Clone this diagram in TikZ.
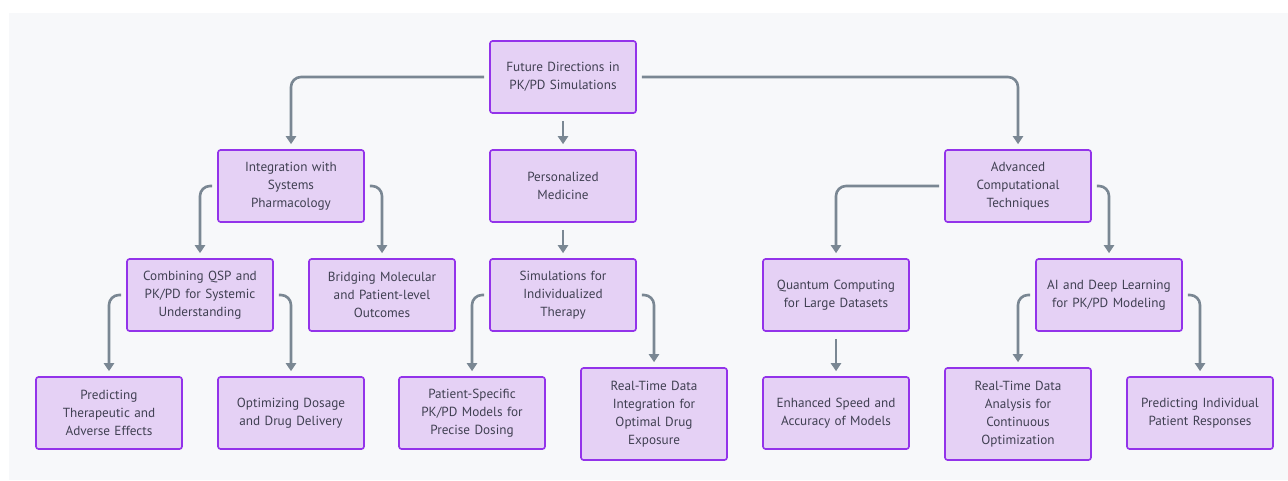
\documentclass[tikz,border=0pt]{standalone}
\usepackage{fontspec}
\setmainfont{PT Sans}
\usetikzlibrary{arrows.meta}
\definecolor{panel}{HTML}{F7F8FA}
\definecolor{boxfill}{HTML}{E5D1F5}
\definecolor{boxline}{HTML}{9333EA}
\definecolor{txt}{HTML}{404052}
\definecolor{edge}{HTML}{7A8793}
\tikzset{
  box/.style={draw=boxline, fill=boxfill, line width=1.6pt, rounded corners=2.5pt,
    minimum width=146pt, minimum height=72pt, text width=140pt, align=center,
    text=txt, font=\fontsize{13.2}{18}\selectfont, inner sep=0pt},
  tallbox/.style={box, minimum height=92pt},
  conn/.style={draw=edge, line width=2.6pt, rounded corners=10pt,
    -{Triangle[width=10pt,length=8pt]}, shorten <=5pt, shorten >=5pt}
}
\begin{document}
\begin{tikzpicture}[x=1pt,y=-1pt]
\useasboundingbox (0,0) rectangle (1288,480);
\fill[panel] (9,13) rectangle (1288,480);
\node[box] (root) at (563,77) {Future Directions in\\PK/PD Simulations};
\node[box] (int) at (291,186) {Integration with\\Systems\\Pharmacology};
\node[box] (pers) at (563,186) {Personalized\\Medicine};
\node[box] (adv) at (1018,186) {Advanced\\Computational\\Techniques};
\node[box] (comb) at (200,295) {Combining QSP and\\PK/PD for Systemic\\Understanding};
\node[box] (bridge) at (382,295) {Bridging Molecular\\and Patient-level\\Outcomes};
\node[box] (sim) at (563,295) {Simulations for\\Individualized\\Therapy};
\node[box] (quant) at (836,295) {Quantum Computing\\for Large Datasets};
\node[box] (ai) at (1109,295) {AI and Deep Learning\\for PK/PD Modeling};
\node[box] (pred) at (109,413) {Predicting\\Therapeutic and\\Adverse Effects};
\node[box] (opt) at (291,413) {Optimizing Dosage\\and Drug Delivery};
\node[box] (pat) at (472,413) {Patient-Specific\\PK/PD Models for\\Precise Dosing};
\node[tallbox] (rtint) at (654,414) {Real-Time Data\\Integration for\\Optimal Drug\\Exposure};
\node[box] (enh) at (836,413) {Enhanced Speed and\\Accuracy of Models};
\node[tallbox] (rtana) at (1018,414) {Real-Time Data\\Analysis for\\Continuous\\Optimization};
\node[box] (pind) at (1200,413) {Predicting Individual\\Patient Responses};

\draw[conn] (root.west) -| (int.north);
\draw[conn] (root.east) -| (adv.north);
\draw[conn, shorten <=7pt] (root.south) -- (pers.north);
\draw[conn] (int.west) -| (comb.north);
\draw[conn] (int.east) -| (bridge.north);
\draw[conn, shorten <=7pt] (pers.south) -- (sim.north);
\draw[conn] (adv.west) -| (quant.north);
\draw[conn] (adv.east) -| (ai.north);
\draw[conn] (comb.west) -| (pred.north);
\draw[conn] (comb.east) -| (opt.north);
\draw[conn] (sim.west) -| (pat.north);
\draw[conn] (sim.east) -| (rtint.north);
\draw[conn, shorten <=7pt] (quant.south) -- (enh.north);
\draw[conn] (ai.west) -| (rtana.north);
\draw[conn] (ai.east) -| (pind.north);
\end{tikzpicture}
\end{document}
